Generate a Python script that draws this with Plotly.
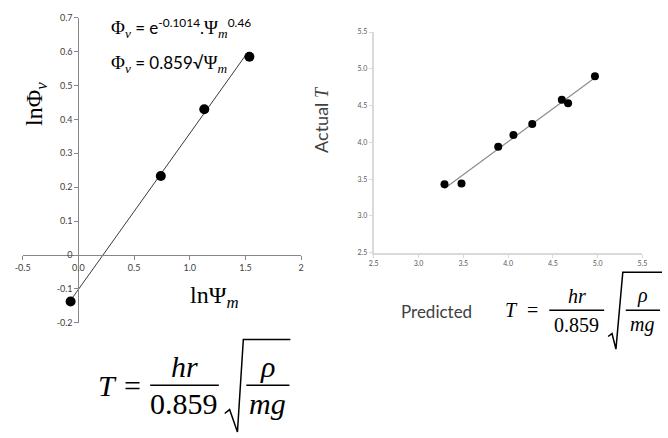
import numpy as np
import plotly.graph_objects as go

W, H = 668, 438

# ---- left panel: log-log fit of Phi_v against Psi_m ----
ln_psi = [-0.07, 0.74, 1.13, 1.535]
ln_phi = [-0.137, 0.233, 0.43, 0.585]
fit_intercept = -0.1014
fit_slope = 0.46
fit_x_span = [-0.06, 1.52]

left_xticks = [-0.5, 0.0, 0.5, 1.0, 1.5, 2.0]
left_xtick_text = ["-0.5", "0.0", "0.5", "1.0", "1.5", "2"]
left_yticks = [0.7, 0.6, 0.5, 0.4, 0.3, 0.2, 0.1, 0.0, -0.1, -0.2]
left_ytick_text = ["0.7", "0.6", "0.5", "0.4", "0.3", "0.2", "0.1", "0", "-0.1", "-0.2"]

# ---- right panel: predicted vs actual T ----
predicted_T = [3.29, 3.48, 3.89, 4.06, 4.27, 4.60, 4.67, 4.97]
actual_T = [3.43, 3.44, 3.94, 4.10, 4.25, 4.58, 4.53, 4.90]


def px(x):
    return x / W


def py(y):
    return 1 - y / H


# panel geometry (pixels)
L_X0, L_X1, L_Y0, L_Y1 = 15, 299, 12, 325
L_XR = [-0.5, 2.0]
L_YR = [-0.2, 0.7]
R_X0, R_X1, R_Y0, R_Y1 = 373, 647, 26.7, 253
R_R = [2.5, 5.5]

fig = go.Figure()

fx = np.array(fit_x_span)
fig.add_trace(go.Scatter(x=fx, y=fit_intercept + fit_slope * fx, mode="lines",
                         line=dict(color="#3a3a3a", width=1), xaxis="x", yaxis="y",
                         hoverinfo="skip"))
fig.add_trace(go.Scatter(x=ln_psi, y=ln_phi, mode="markers",
                         marker=dict(color="black", size=10), xaxis="x", yaxis="y"))

k, b = np.polyfit(predicted_T, actual_T, 1)
tx = np.array([min(predicted_T), max(predicted_T)])
fig.add_trace(go.Scatter(x=tx, y=k * tx + b, mode="lines",
                         line=dict(color="#8c8c8c", width=1.2), xaxis="x2", yaxis="y2",
                         hoverinfo="skip"))
fig.add_trace(go.Scatter(x=predicted_T, y=actual_T, mode="markers",
                         marker=dict(color="black", size=8), xaxis="x2", yaxis="y2"))

# left axes cross at the origin
lx_dom = [px(L_X0), px(L_X1)]
ly_dom = [py(L_Y1), py(L_Y0)]
x_zero_pos = lx_dom[0] + (0 - L_XR[0]) / (L_XR[1] - L_XR[0]) * (lx_dom[1] - lx_dom[0])
y_zero_pos = ly_dom[0] + (0 - L_YR[0]) / (L_YR[1] - L_YR[0]) * (ly_dom[1] - ly_dom[0])

tick_font = dict(family="Lato", size=9, color="#404040")
fig.update_layout(
    width=W, height=H, margin=dict(l=0, r=0, t=0, b=0),
    paper_bgcolor="white", plot_bgcolor="white", showlegend=False,
    xaxis=dict(domain=lx_dom, range=L_XR, anchor="free", position=y_zero_pos,
               tickvals=left_xticks, ticktext=left_xtick_text, showgrid=False,
               zeroline=False, showline=True, linecolor="#868686", linewidth=1,
               ticks="outside", ticklen=4, tickcolor="#868686", tickfont=tick_font),
    yaxis=dict(domain=ly_dom, range=L_YR, anchor="free", position=x_zero_pos,
               tickvals=left_yticks, ticktext=left_ytick_text, showgrid=False,
               zeroline=False, showline=True, linecolor="#868686", linewidth=1,
               ticks="outside", ticklen=4, tickcolor="#868686", tickfont=tick_font),
    xaxis2=dict(domain=[px(R_X0), px(R_X1)], range=R_R, anchor="y2", dtick=0.5,
                tick0=2.5, tickformat=".1f", showgrid=False, zeroline=False,
                showline=True, linecolor="#d9d9d9", linewidth=2, ticks="outside",
                ticklen=3, tickcolor="#d9d9d9",
                tickfont=dict(family="Lato", size=7, color="#595959")),
    yaxis2=dict(domain=[py(R_Y1), py(R_Y0)], range=R_R, anchor="x2", dtick=0.5,
                tick0=2.5, tickformat=".1f", showgrid=False, zeroline=False,
                showline=True, linecolor="#d9d9d9", linewidth=2, ticks="outside",
                ticklen=3, tickcolor="#d9d9d9",
                tickfont=dict(family="Lato", size=7, color="#595959")),
)

SERIF = "Liberation Serif"
SERIF_SPAN = '<span style="font-family:Liberation Serif;font-size:19px">'


def note(x, y, text, size, family="Lato", color="black", angle=0, xanchor="center"):
    fig.add_annotation(x=px(x), y=py(y), xref="paper", yref="paper", text=text,
                       showarrow=False, xanchor=xanchor, yanchor="middle",
                       textangle=angle, borderpad=0,
                       font=dict(family=family, size=size, color=color))


def seg(x0, y0, x1, y1, w=1.5):
    fig.add_shape(type="line", xref="paper", yref="paper",
                  x0=px(x0), y0=py(y0), x1=px(x1), y1=py(y1),
                  line=dict(color="black", width=w))


def radical(pts, w=1.5):
    path = "M " + " L ".join(f"{px(a)},{py(c)}" for a, c in pts)
    fig.add_shape(type="path", xref="paper", yref="paper", path=path,
                  line=dict(color="black", width=w))


# left panel labels
note(104, 23, SERIF_SPAN + "Φ<sub><i>v</i></sub></span> = e<sup>-0.1014</sup>."
     + SERIF_SPAN + "Ψ<sub><i>m</i></sub></span><sup>0.46</sup>", 17, xanchor="left")
note(104, 60, SERIF_SPAN + "Φ<sub><i>v</i></sub></span> = 0.859√"
     + SERIF_SPAN + "Ψ<sub><i>m</i></sub></span>", 17, xanchor="left")
note(29, 100, "lnΦ<sub><i>v</i></sub>", 24, family=SERIF, angle=-90)
note(211, 298, "lnΨ<sub><i>m</i></sub>", 24, family=SERIF)

# right panel labels
note(319, 116, "Actual " + '<span style="font-family:Liberation Serif"><i>T</i></span>',
     18, color="#404040", angle=-90)
note(437, 313, "Predicted", 17, color="#404040")


def formula(tx, eqx, cx, x0, x1, yb, dy, size, rad, rcx, rx0, rx1):
    note(tx, yb, "<i>T</i>", size, family=SERIF)
    note(eqx, yb, "=", size, family=SERIF)
    note(cx, yb - dy, "<i>hr</i>", size, family=SERIF)
    note(cx, yb + dy, "0.859", size, family=SERIF)
    seg(x0, yb, x1, yb)
    radical(rad)
    note(rcx, yb - dy, "<i>ρ</i>", size, family=SERIF)
    note(rcx, yb + dy, "<i>mg</i>", size, family=SERIF)
    seg(rx0, yb, rx1, yb)


# T formula under the left panel
formula(101, 127, 180, 145, 215, 389, 19, 30,
        [(221, 418), (226, 414), (234, 437), (240, 342), (288, 342)],
        265, 243, 287)

# T formula beside the "Predicted" axis label
formula(514, 535, 580, 552, 608, 312, 15, 20,
        [(612, 339), (616, 336), (620, 352), (627, 273), (667, 273)],
        647, 630, 665)

fig.write_html("out.html")
